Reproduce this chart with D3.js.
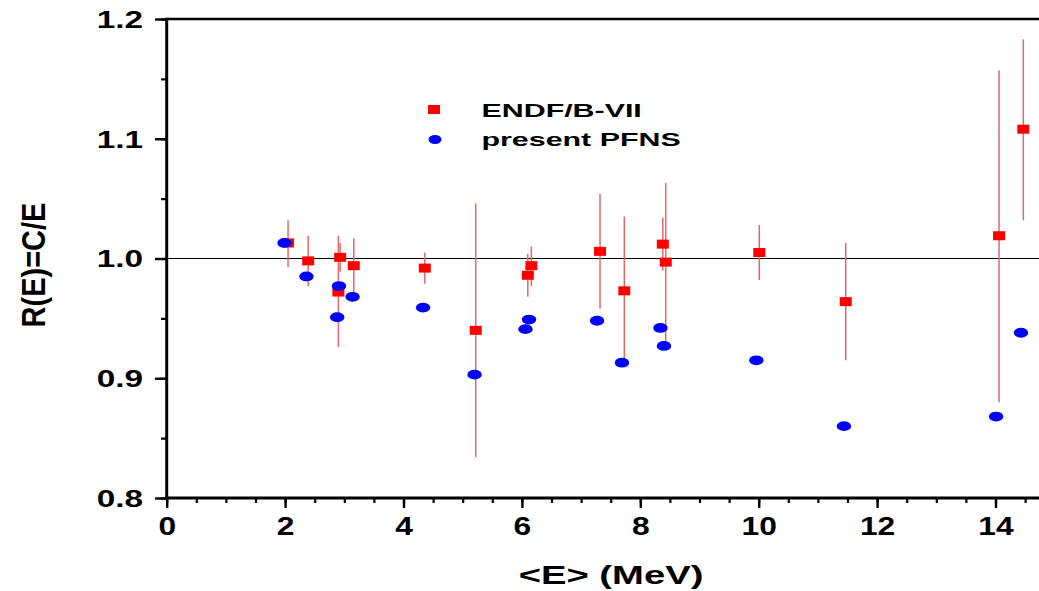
<!DOCTYPE html>
<html>
<head>
<meta charset="utf-8">
<script src="https://cdn.jsdelivr.net/npm/d3@7"></script>
<style>
  body { margin: 0; background: #fff; }
  svg { display: block; }
  text { font-family: "Liberation Sans", Arial, sans-serif; font-weight: bold; fill: #000; }
</style>
</head>
<body>
<div id="chart"></div>
<script>
// ENDF/B-VII ratios with error bars
const endfE  = [2.05, 2.39, 2.93, 2.90, 3.16, 4.36, 5.22, 6.10, 6.16, 7.32, 7.73, 8.38, 8.43, 10.01, 11.47, 14.06, 14.47];
const endfR  = [1.013, 0.998, 1.001, 0.972, 0.994, 0.992, 0.940, 0.986, 0.994, 1.006, 0.973, 1.012, 0.997, 1.005, 0.964, 1.019, 1.108];
const endfLo = [0.993, 0.977, 0.989, 0.926, 0.968, 0.979, 0.834, 0.968, 0.977, 0.958, 0.917, 0.990, 0.931, 0.982, 0.915, 0.880, 1.032];
const endfHi = [1.032, 1.019, 1.013, 1.019, 1.017, 1.005, 1.046, 1.004, 1.010, 1.054, 1.035, 1.034, 1.063, 1.028, 1.013, 1.157, 1.183];

// present PFNS ratios
const pfnsE = [1.99, 2.36, 2.91, 2.88, 3.14, 4.33, 5.20, 6.12, 6.06, 7.27, 7.69, 8.34, 8.40, 9.96, 11.44, 14.01, 14.43];
const pfnsR = [1.013, 0.985, 0.977, 0.951, 0.968, 0.959, 0.903, 0.949, 0.941, 0.948, 0.913, 0.942, 0.927, 0.915, 0.860, 0.868, 0.938];

const xMajor = [0, 2, 4, 6, 8, 10, 12, 14];
const yMajor = [0.8, 0.9, 1.0, 1.1, 1.2];
const legendLabels = ["ENDF/B-VII", "present PFNS"];

const width = 1039, height = 591;
const svg = d3.select("#chart").append("svg")
  .attr("width", width)
  .attr("height", height);

const x = d3.scaleLinear().domain([0, 15]).range([166.7, 1054.7]);
const y = d3.scaleLinear().domain([0.8, 1.2]).range([498, 19]);

// minor + major ticks
const xMinor = d3.range(0, 15.01, 0.5);
const yMinor = d3.range(0.8, 1.2001, 0.05);

svg.append("g")
  .attr("transform", "translate(0,498)")
  .call(d3.axisBottom(x).tickValues(xMinor).tickSize(5).tickFormat(""))
  .call(g => g.select(".domain").remove())
  .call(g => g.selectAll("line").attr("stroke", "#000").attr("stroke-width", 2.2));

svg.append("g")
  .attr("transform", "translate(0,498)")
  .call(d3.axisBottom(x).tickValues(xMajor).tickSize(10).tickFormat(d3.format("d")))
  .call(g => g.select(".domain").remove())
  .call(g => g.selectAll("line").attr("stroke", "#000").attr("stroke-width", 2.4))
  .call(g => g.selectAll("text")
    .attr("y", 37).attr("dy", null)
    .attr("font-size", 25)
    .attr("font-family", null)
    .attr("transform", "scale(1.27,1)"));

svg.append("g")
  .attr("transform", "translate(167,0)")
  .call(d3.axisLeft(y).tickValues(yMinor).tickSize(6).tickFormat(""))
  .call(g => g.select(".domain").remove())
  .call(g => g.selectAll("line").attr("stroke", "#000").attr("stroke-width", 2.2));

svg.append("g")
  .attr("transform", "translate(167,0)")
  .call(d3.axisLeft(y).tickValues(yMajor).tickSize(12).tickFormat(d3.format(".1f")))
  .call(g => g.select(".domain").remove())
  .call(g => g.selectAll("line").attr("stroke", "#000").attr("stroke-width", 2.4))
  .call(g => g.selectAll("text")
    .attr("x", -24 / 1.45).attr("dy", "0.36em")
    .attr("font-size", 23)
    .attr("font-family", null)
    .attr("transform", "scale(1.45,1)"));

// frame lines
svg.append("line")
  .attr("x1", x(0)).attr("x2", x(15)).attr("y1", y(1.2)).attr("y2", y(1.2))
  .attr("stroke", "#000").attr("stroke-width", 2.4);
svg.append("line")
  .attr("x1", x(0) - 1.5).attr("x2", x(15)).attr("y1", y(0.8)).attr("y2", y(0.8))
  .attr("stroke", "#000").attr("stroke-width", 3);
svg.append("line")
  .attr("x1", x(0)).attr("x2", x(0)).attr("y1", y(1.2) - 1.2).attr("y2", y(0.8) + 1.5)
  .attr("stroke", "#000").attr("stroke-width", 3);

// reference line at R = 1
svg.append("line")
  .attr("x1", x(0)).attr("x2", x(15)).attr("y1", y(1)).attr("y2", y(1))
  .attr("stroke", "#000").attr("stroke-width", 1.2);

const endf = endfE.map((e, i) => ({e: e, r: endfR[i], lo: endfLo[i], hi: endfHi[i]}));
const pfns = pfnsE.map((e, i) => ({e: e, r: pfnsR[i]}));

// error bars
svg.append("g").selectAll("line")
  .data(endf)
  .join("line")
  .attr("x1", d => x(d.e)).attr("x2", d => x(d.e))
  .attr("y1", d => y(d.lo)).attr("y2", d => y(d.hi))
  .attr("stroke", "#e06a6a").attr("stroke-width", 1.5);

// squares
svg.append("g").selectAll("rect")
  .data(endf)
  .join("rect")
  .attr("x", d => x(d.e) - 6).attr("y", d => y(d.r) - 4.5)
  .attr("width", 12).attr("height", 9)
  .attr("fill", "#ff0000");

// ellipses
svg.append("g").selectAll("ellipse")
  .data(pfns)
  .join("ellipse")
  .attr("cx", d => x(d.e)).attr("cy", d => y(d.r))
  .attr("rx", 7.2).attr("ry", 4.9)
  .attr("fill", "#0000ff");

// legend
const legend = svg.append("g");
legend.append("rect")
  .attr("x", 428).attr("y", 105).attr("width", 12).attr("height", 9)
  .attr("fill", "#ff0000");
legend.append("ellipse")
  .attr("cx", 435).attr("cy", 139.5).attr("rx", 6.5).attr("ry", 4.6)
  .attr("fill", "#0000ff");
legend.selectAll("text")
  .data(legendLabels)
  .join("text")
  .attr("transform", (d, i) => "translate(481.5," + (116.5 + i * 29.5) + ") scale(1.6,1)")
  .attr("font-size", 19)
  .text(d => d);

// axis titles
svg.append("text")
  .attr("transform", "translate(611,584) scale(1.47,1)")
  .attr("text-anchor", "middle")
  .attr("font-size", 26)
  .text("<E> (MeV)");

svg.append("text")
  .attr("transform", "translate(45,265) scale(1.12,1) rotate(-90)")
  .attr("text-anchor", "middle")
  .attr("font-size", 29)
  .text("R(E)=C/E");
</script>
</body>
</html>
